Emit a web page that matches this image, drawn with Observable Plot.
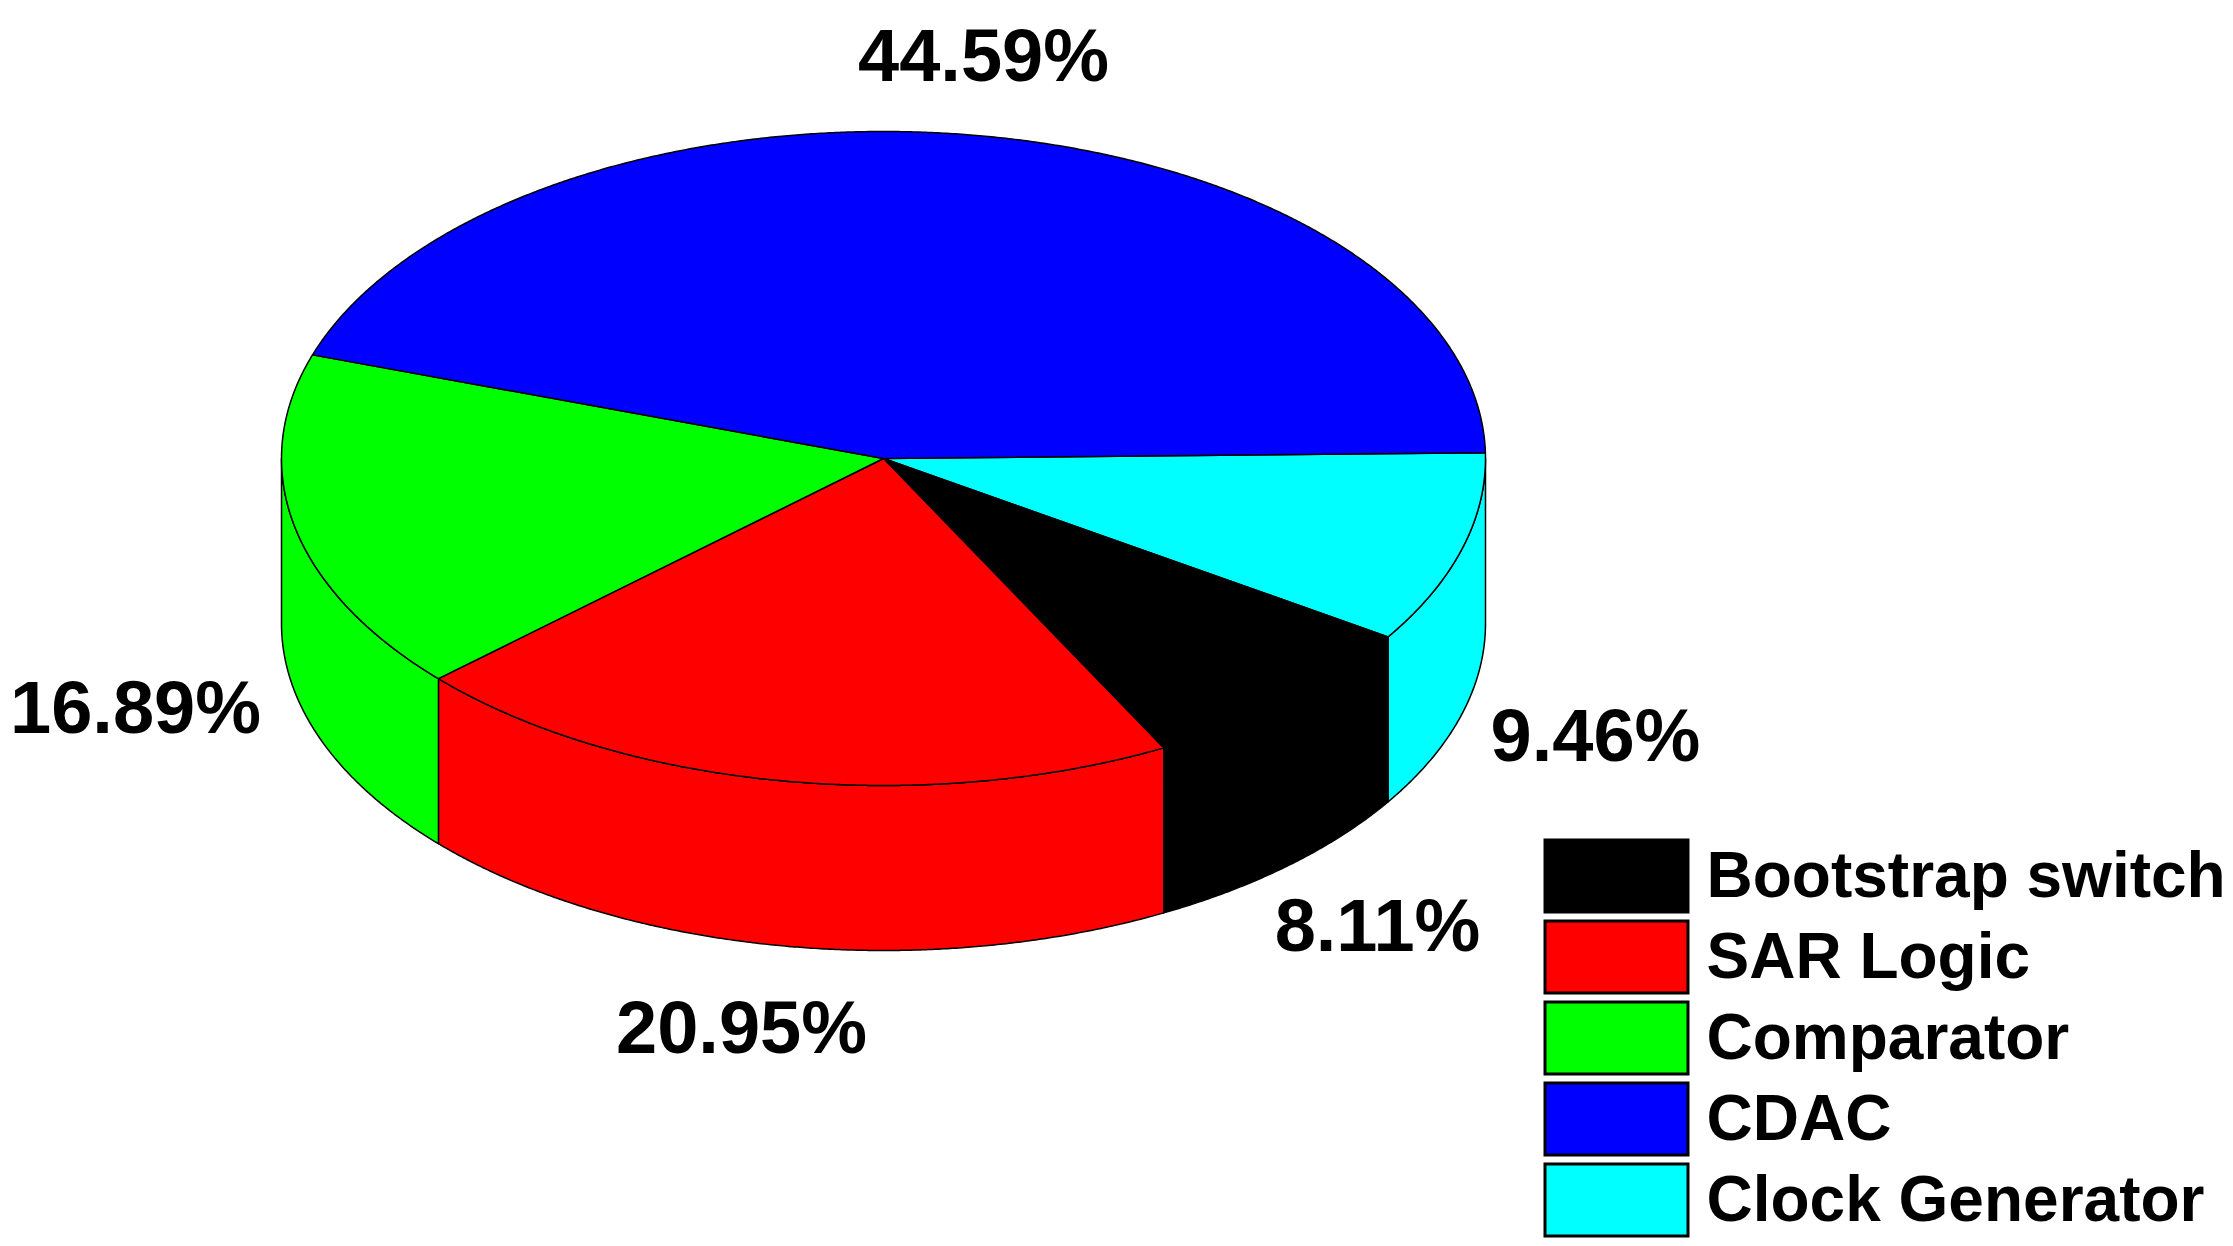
<!DOCTYPE html>
<html>
<head>
<meta charset="utf-8">
<script src="https://cdn.jsdelivr.net/npm/d3@7"></script>
<script src="https://cdn.jsdelivr.net/npm/@observablehq/plot@0.6"></script>
<style>html,body{margin:0;padding:0;background:#fff}svg{display:block}</style>
</head>
<body>
<div id="chart"></div>
<script>
// Data: in pie order, clockwise from the right-hand rim
const pieOrder = ["Clock Generator", "Bootstrap switch", "SAR Logic", "Comparator", "CDAC"];
const percents = [9.46, 8.11, 20.95, 16.89, 44.59];
const labels = ["9.46%", "8.11%", "20.95%", "16.89%", "44.59%"];
// Legend order and colours
const legendOrder = ["Bootstrap switch", "SAR Logic", "Comparator", "CDAC", "Clock Generator"];
const legendColors = ["#000000", "#ff0000", "#00ff00", "#0000ff", "#00ffff"];

// Layout (separate from the data)
const W = 2233, H = 1246;
const pie = {cx: 883, cy: 458, rx: 602, ry: 327, depth: 165, start: -1.0 * Math.PI / 180};
const labelPos = [[1595, 737], [1377, 927], [741, 1029], [135, 709], [983, 57]];
const legend = {x1: 1545, x2: 1688, top: 840, h: 72, step: 81, textX: 1706};

const rim = (a, drop = 0) => ({
  x: pie.cx + pie.rx * Math.cos(a),
  y: pie.cy + pie.ry * Math.sin(a) + drop
});
const arc = (a0, a1, drop = 0) => {
  const n = Math.max(2, Math.ceil(Math.abs(a1 - a0) / 0.005));
  return d3.range(n + 1).map(i => rim(a0 + (a1 - a0) * i / n, drop));
};

let cum = 0;
const slices = pieOrder.map((name, i) => {
  const a0 = pie.start + cum / 100 * 2 * Math.PI;
  cum += percents[i];
  const a1 = pie.start + cum / 100 * 2 * Math.PI;
  return {name, a0, a1};
});

const tops = slices.flatMap(s => {
  const pts = [{x: pie.cx, y: pie.cy}, ...arc(s.a0, s.a1), {x: pie.cx, y: pie.cy}];
  return pts.map(p => ({...p, name: s.name}));
});
const sides = slices.flatMap(s => {
  const a0 = Math.max(s.a0, 0), a1 = Math.min(s.a1, Math.PI);
  if (a1 <= a0) return [];
  const upper = arc(a0, a1);
  const lower = arc(a1, a0, pie.depth);
  return [...upper, ...lower, upper[0]].map(p => ({...p, name: s.name}));
});
const labelRows = labels.map((text, i) => ({text, x: labelPos[i][0], y: labelPos[i][1]}));
const legendRows = legendOrder.map((name, i) => ({
  name,
  y1: legend.top + i * legend.step,
  y2: legend.top + i * legend.step + legend.h,
  ym: legend.top + i * legend.step + legend.h / 2
}));

const font = "'Liberation Sans', Arial, sans-serif";
const chart = Plot.plot({
  width: W, height: H,
  marginTop: 0, marginRight: 0, marginBottom: 0, marginLeft: 0,
  x: {domain: [0, W], range: [0, W], axis: null},
  y: {domain: [0, H], range: [0, H], axis: null},
  color: {domain: legendOrder, range: legendColors},
  style: {background: "#fff", fontFamily: font},
  marks: [
    Plot.line(sides, {x: "x", y: "y", z: "name", fill: "name", stroke: "#000", strokeWidth: 1.5, curve: "linear"}),
    Plot.line(tops, {x: "x", y: "y", z: "name", fill: "name", stroke: "#000", strokeWidth: 1.5, curve: "linear"}),
    Plot.text(labelRows, {x: "x", y: "y", text: "text", fontSize: 74, fontWeight: "bold", fill: "#000", fontFamily: font, lineAnchor: "middle"}),
    Plot.rect(legendRows, {x1: () => legend.x1, x2: () => legend.x2, y1: "y1", y2: "y2", fill: "name", stroke: "#000", strokeWidth: 3, inset: 0}),
    Plot.text(legendRows, {x: () => legend.textX, y: "ym", text: "name", textAnchor: "start", fontSize: 64, fontWeight: "bold", fill: "#000", fontFamily: font, lineAnchor: "middle"})
  ]
});
document.getElementById("chart").append(chart);
</script>
</body>
</html>
